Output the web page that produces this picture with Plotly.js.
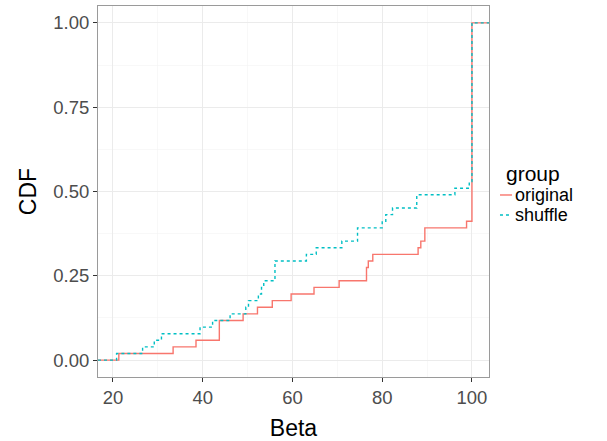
<!DOCTYPE html>
<html>
<head>
<meta charset="utf-8">
<script src="https://cdn.plot.ly/plotly-3.0.1.min.js"></script>
<style>html,body{margin:0;padding:0;background:#fff;}#chart{width:607px;height:441px;}</style>
</head>
<body>
<div id="chart"></div>
<script>
// Step positions (Beta) and CDF level reached at each step
const originalBeta = [21.3, 33.4, 38.5, 43.7, 49.0, 52.2, 55.5, 59.7, 64.8, 70.4, 76.5, 76.9, 77.9, 88.0, 88.6, 89.5, 98.8, 100];
const originalCDF  = [0.0196, 0.0392, 0.0588, 0.1176, 0.1373, 0.1569, 0.1765, 0.1961, 0.2157, 0.2353, 0.2745, 0.2941, 0.3137, 0.3333, 0.3529, 0.3922, 0.4118, 1.0];
const shuffleBeta  = [20.8, 26.6, 29.2, 30.8, 39.4, 42.2, 46.1, 49.6, 50.2, 52.4, 53.1, 53.6, 56.1, 63.1, 65.3, 71.0, 74.5, 80.0, 80.8, 82.3, 87.7, 96.2, 99.4, 100];
const shuffleCDF   = [0.0196, 0.0392, 0.0588, 0.0784, 0.0980, 0.1176, 0.1373, 0.1569, 0.1765, 0.1961, 0.2157, 0.2353, 0.2941, 0.3137, 0.3333, 0.3529, 0.3922, 0.4118, 0.4314, 0.4510, 0.4902, 0.5098, 0.5294, 1.0];
const groups = ['original', 'shuffle'];
const groupColors = ['#F8766D', '#00BFC4'];
const groupDash = ['solid', 'dot'];
const legendTitle = 'group';
const xTicks = [20, 40, 60, 80, 100];
const yTicks = [0, 0.25, 0.5, 0.75, 1];

const xRange = [16.66, 103.8];
const yRange = [-0.05, 1.05];
const LW = 1.4;

function ecdfTrace(xs, ys, i) {
  // pad like stat_ecdf: start at 0 from the left edge, end at 1 to the right edge
  const x = [xRange[0]].concat(xs, [xRange[1]]);
  const y = [0].concat(ys, [1]);
  return {x: x, y: y, name: groups[i], type: 'scatter', mode: 'lines', showlegend: false,
          line: {shape: 'hv', color: groupColors[i], width: LW, dash: groupDash[i]}};
}

const traces = [
  ecdfTrace(originalBeta, originalCDF, 0),
  ecdfTrace(shuffleBeta, shuffleCDF, 1)
];

const fam = 'Liberation Sans, Arial, sans-serif';

// ggplot-style legend (short keys) placed at the right of the panel
const legX0 = 1.0281, legX1 = 1.0588, legTextX = 1.0639, legTitleX = 1.0409;
const legTitleY = 0.5472, legY = [0.4906, 0.4367];
const annotations = [{
  xref: 'paper', yref: 'paper', x: legTitleX, y: legTitleY, xanchor: 'left', yanchor: 'middle',
  text: legendTitle, showarrow: false, borderpad: 0, font: {family: fam, size: 21, color: '#000'}
}];
const shapes = [];
groups.forEach(function (g, i) {
  annotations.push({
    xref: 'paper', yref: 'paper', x: legTextX, y: legY[i], xanchor: 'left', yanchor: 'middle',
    text: g, showarrow: false, borderpad: 0, font: {family: fam, size: 18, color: '#000'}
  });
  shapes.push({
    type: 'line', xref: 'paper', yref: 'paper', x0: legX0, x1: legX1, y0: legY[i], y1: legY[i],
    line: {color: groupColors[i], width: LW, dash: groupDash[i]}
  });
});

const layout = {
  width: 607, height: 441,
  margin: {l: 98, r: 118, t: 6, b: 64},
  paper_bgcolor: '#ffffff', plot_bgcolor: '#ffffff',
  font: {family: fam, color: '#000'},
  showlegend: false,
  xaxis: {
    range: xRange, tickvals: xTicks, ticktext: xTicks.map(String),
    showgrid: true, gridcolor: '#ebebeb', gridwidth: 1,
    minor: {dtick: 10, tick0: 10, showgrid: true, gridcolor: '#f4f4f4', gridwidth: 0.6, ticks: ''},
    zeroline: false, showline: true, mirror: true, linecolor: '#9a9a9a', linewidth: 1,
    ticks: 'outside', ticklen: 4, tickcolor: '#333', tickwidth: 1,
    tickfont: {size: 18.5, color: '#4d4d4d', family: fam},
    title: {text: 'Beta', font: {size: 23, color: '#000', family: fam}, standoff: 13}
  },
  yaxis: {
    range: yRange, tickvals: yTicks, tickformat: '.2f',
    showgrid: true, gridcolor: '#ebebeb', gridwidth: 1,
    minor: {dtick: 0.25, tick0: 0.125, showgrid: true, gridcolor: '#f4f4f4', gridwidth: 0.6, ticks: ''},
    zeroline: false, showline: true, mirror: true, linecolor: '#9a9a9a', linewidth: 1,
    ticks: 'outside', ticklen: 4, tickcolor: '#333', tickwidth: 1,
    tickfont: {size: 18.5, color: '#4d4d4d', family: fam},
    title: {text: 'CDF', font: {size: 23, color: '#000', family: fam}, standoff: 10}
  },
  annotations: annotations,
  shapes: shapes
};

Plotly.newPlot('chart', traces, layout, {displayModeBar: false, staticPlot: true});
</script>
</body>
</html>
